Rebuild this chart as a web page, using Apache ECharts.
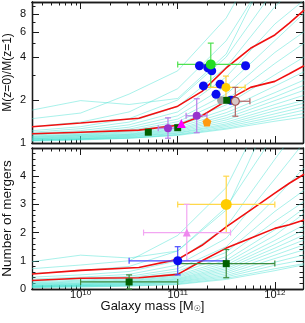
<!DOCTYPE html>
<html><head><meta charset="utf-8">
<script src="https://cdn.jsdelivr.net/npm/echarts@6/dist/echarts.min.js"></script>
<style>html,body{margin:0;padding:0;background:#fff}#c{width:305px;height:323px}</style>
</head><body><div id="c"></div>
<script>
// ---------- axis ranges / ticks ----------
const xMin = 3.16e9, xMax = 1.95e12;
const topYMin = 1, topYMax = 9.7;
const botYMin = 0, botYMax = 5;
const xMajorTicks = [1e10, 1e11, 1e12];
const xMinorTicks = [4e9,5e9,6e9,7e9,8e9,9e9,2e10,3e10,4e10,5e10,6e10,7e10,8e10,9e10,2e11,3e11,4e11,5e11,6e11,7e11,8e11,9e11];
const topYMajorTicks = [1, 2, 4, 6, 8];
const topYMinorTicks = [3, 5, 7, 9];

// ---------- model curves ----------
const massBins = [3.16e9, 1e10, 3.16e10, 1e11, 3.16e11, 1e12, 2e12];
const cyanTop = [
  [1.70, 1.98, 1.86, 2.05, 4.2, 20, 40],
  [1.48, 1.62, 2.20, 3.2, 7.5, 30, 50],
  [1.30, 1.40, 1.65, 2.4, 5.2, 18, 30],
  [1.22, 1.30, 1.48, 2.0, 4.0, 12, 20],
  [1.19, 1.26, 1.40, 1.8, 3.4, 9, 14],
  [1.17, 1.22, 1.34, 1.65, 2.9, 6.8, 10],
  [1.15, 1.19, 1.29, 1.55, 2.5, 5.2, 8.1],
  [1.14, 1.17, 1.25, 1.47, 2.2, 4.3, 6.0],
  [1.12, 1.15, 1.22, 1.41, 2.0, 3.6, 5.0],
  [1.11, 1.14, 1.20, 1.36, 1.85, 3.0, 4.0],
  [1.10, 1.13, 1.18, 1.32, 1.72, 2.5, 3.15],
  [1.09, 1.12, 1.16, 1.29, 1.63, 2.25, 2.76],
  [1.08, 1.11, 1.15, 1.26, 1.56, 2.1, 2.54],
  [1.07, 1.10, 1.14, 1.24, 1.50, 1.98, 2.34],
  [1.07, 1.09, 1.13, 1.22, 1.45, 1.86, 2.16],
  [1.06, 1.08, 1.12, 1.20, 1.40, 1.76, 1.99],
  [1.05, 1.07, 1.11, 1.18, 1.36, 1.68, 1.90],
  [1.05, 1.07, 1.10, 1.17, 1.33, 1.60, 1.79],
  [1.04, 1.06, 1.09, 1.15, 1.30, 1.53, 1.70],
  [1.04, 1.06, 1.08, 1.14, 1.27, 1.47, 1.61],
  [1.03, 1.05, 1.08, 1.13, 1.25, 1.42, 1.52]
];
const cyanBot = [
  [0.97, 1.20, 1.10, 1.35, 2.8, 6.5, 9],
  [0.72, 0.85, 1.00, 1.9, 3.6, 7, 9],
  [0.55, 0.65, 0.80, 1.35, 2.9, 5.5, 7],
  [0.42, 0.50, 0.62, 1.0, 2.2, 4.6, 6],
  [0.35, 0.42, 0.52, 0.85, 1.8, 3.9, 5.2],
  [0.30, 0.36, 0.45, 0.72, 1.5, 3.2, 4.3],
  [0.26, 0.31, 0.40, 0.63, 1.3, 2.75, 3.5],
  [0.22, 0.28, 0.36, 0.56, 1.15, 2.4, 3.1],
  [0.20, 0.25, 0.32, 0.50, 1.02, 2.1, 2.86],
  [0.18, 0.22, 0.29, 0.46, 0.93, 1.9, 2.68],
  [0.16, 0.20, 0.27, 0.42, 0.85, 1.72, 2.27],
  [0.14, 0.18, 0.24, 0.38, 0.78, 1.58, 2.1],
  [0.12, 0.16, 0.22, 0.35, 0.72, 1.45, 1.92],
  [0.11, 0.15, 0.20, 0.32, 0.66, 1.33, 1.74],
  [0.10, 0.13, 0.18, 0.29, 0.60, 1.2, 1.57],
  [0.09, 0.12, 0.16, 0.26, 0.54, 1.08, 1.39],
  [0.08, 0.11, 0.15, 0.24, 0.48, 0.95, 1.21],
  [0.07, 0.10, 0.13, 0.21, 0.43, 0.84, 1.04],
  [0.06, 0.08, 0.11, 0.18, 0.38, 0.72, 0.90],
  [0.05, 0.07, 0.10, 0.16, 0.34, 0.65, 0.86]
];
const redMass = [3.16e9, 1e10, 3.98e10, 1e11, 1.78e11, 3.16e11, 5.62e11, 1e12, 1.41e12, 2e12];
const redTopUpper = [1.30, 1.38, 1.49, 1.81, 2.3, 3.35, 4.6, 5.7, 6.9, 8.5];
const redTopLower = [1.16, 1.19, 1.23, 1.33, 1.55, 1.97, 2.45, 2.7, 3.05, 3.47];
const redBotUpper = [0.53, 0.66, 0.76, 1.05, 1.55, 2.2, 2.8, 3.4, 3.75, 4.07];
const redBotLower = [0.30, 0.38, 0.40, 0.52, 1.0, 1.45, 1.8, 2.15, 2.28, 2.45];

// ---------- observations: [mass, value, massLo, massHi, valLo, valHi] ----------
const blueTop = [[1.675e11,3.47],[2.04e11,3.36],[2.24e11,3.2],[5.0e11,3.47],[1.84e11,2.51],[2.73e11,2.58],[2.48e11,2.19],[3.52e11,1.99]];
const greenTop = [[2.19e11, 3.55, 1e11, 4.7e11, 2.45, 5.0]];
const yellowTop = [[3.14e11, 2.45, 1.96e11, 4.95e11, 2.06, 2.94]];
const brownTop = [[3.92e11, 1.96, 2.84e11, 5.54e11, 1.54, 2.45]];
const grayTop = [[2.8e11, 1.99]];
const squaresTop = [[3.2e11, 1.99], [1.0e11, 1.28], [4.98e10, 1.19]];
const purpleTop = [[1.57e11, 1.55, 1.22e11, 2.0e11, 1.18, 2.04], [7.94e10, 1.27, 6.3e10, 1.06e11, 1.08, 1.50]];
const magentaTop = [[1.09e11, 1.37]];
const orangeTop = [[2.0e11, 1.40]];

const yellowBot = [[3.16e11, 3.0, 1e11, 1e12, 2.0, 4.0]];
const pinkBot = [[1.24e11, 2.0, 4.45e10, 3.5e11, 1.0, 3.0]];
const blueBot = [[1e11, 1.0, 3.16e10, 3.16e11, 0.5, 1.5]];
const greenBot = [[3.16e11, 0.9, 1e11, 1e12, 0.4, 1.4], [3.16e10, 0.25, 1e10, 1e11, 0.0, 0.5]];

// ---------- build ----------
const FONT = 'Liberation Sans';
const AX = '#1a1a1a';
const chart = echarts.init(document.getElementById('c'), null, {renderer: 'canvas'});

function xAx(grid, pos, ticks, len, labels) {
  return {
    type: 'log', logBase: 10, gridIndex: grid, position: pos, min: xMin, max: xMax,
    axisLine: {show: true, onZero: false, lineStyle: {color: AX, width: 1.3}},
    axisTick: {show: true, inside: true, length: len, customValues: ticks, lineStyle: {color: AX, width: 1}},
    axisLabel: labels ? {
      show: true, customValues: ticks, margin: 0, color: '#111', fontFamily: FONT, hideOverlap: false,
      formatter: v => '{b|10}{s|' + Math.round(Math.log10(v)) + '}',
      rich: {b: {fontSize: 11, fontFamily: FONT, color: '#111', lineHeight: 11, padding: [3, 0, 0, 0], verticalAlign: 'bottom'},
             s: {fontSize: 8, fontFamily: FONT, color: '#111', lineHeight: 8, verticalAlign: 'top'}}
    } : {show: false},
    splitLine: {show: false}, minorTick: {show: false}, minorSplitLine: {show: false}
  };
}
function yTopAx(pos, ticks, len, labels, name) {
  return {
    type: 'log', logBase: 10, gridIndex: 0, position: pos, min: topYMin, max: topYMax,
    name: name || '', nameLocation: 'middle', nameGap: 18, nameMoveOverlap: false,
    nameTextStyle: {fontSize: 12, fontFamily: FONT, color: '#111'},
    axisLine: {show: true, onZero: false, lineStyle: {color: AX, width: 1.3}},
    axisTick: {show: true, inside: true, length: len, customValues: ticks, lineStyle: {color: AX, width: 1}},
    axisLabel: labels ? {show: true, customValues: ticks, margin: 6, fontSize: 11, fontFamily: FONT, color: '#111'} : {show: false},
    splitLine: {show: false}, minorTick: {show: false}
  };
}
function yBotAx(pos, labels, name) {
  return {
    type: 'value', gridIndex: 1, position: pos, min: botYMin, max: botYMax, interval: 1,
    name: name || '', nameLocation: 'middle', nameGap: 18, nameMoveOverlap: false,
    nameTextStyle: {fontSize: 13.5, fontFamily: FONT, color: '#111'},
    axisLine: {show: true, onZero: false, lineStyle: {color: AX, width: 1.3}},
    axisTick: {show: true, inside: true, length: 7, lineStyle: {color: AX, width: 1}},
    minorTick: {show: true, splitNumber: 5, length: 3.5, lineStyle: {color: AX, width: 1}},
    axisLabel: labels ? {show: true, margin: 6, fontSize: 11, fontFamily: FONT, color: '#111', showMaxLabel: false} : {show: false},
    splitLine: {show: false}, minorSplitLine: {show: false}
  };
}

const xAxes = [
  xAx(0, 'bottom', xMajorTicks, 7, false), xAx(0, 'bottom', xMinorTicks, 3.5, false),
  xAx(0, 'top', xMajorTicks, 7, false), xAx(0, 'top', xMinorTicks, 3.5, false),
  xAx(1, 'bottom', xMajorTicks, 7, true), xAx(1, 'bottom', xMinorTicks, 3.5, false),
  xAx(1, 'top', xMajorTicks, 7, false), xAx(1, 'top', xMinorTicks, 3.5, false)
];
const yAxes = [
  yTopAx('left', topYMajorTicks, 7, true, 'M(z=0)/M(z=1)'), yTopAx('left', topYMinorTicks, 3.5, false),
  yTopAx('right', topYMajorTicks, 7, false), yTopAx('right', topYMinorTicks, 3.5, false),
  yBotAx('left', true, 'Number of mergers'), yBotAx('right', false)
];

const series = [];
function zip(xs, ys) { return xs.map((x, i) => [x, ys[i]]); }
function lineS(panel, data, color, width, opacity, z) {
  series.push({type: 'line', xAxisIndex: panel ? 4 : 0, yAxisIndex: panel ? 4 : 0, data: data,
    symbol: 'none', silent: true, clip: true, z: z,
    lineStyle: {color: color, width: width, opacity: opacity}});
}
cyanTop.forEach(v => lineS(0, zip(massBins, v), '#40e0d0', 0.9, 0.5, 1));
cyanBot.forEach(v => lineS(1, zip(massBins, v), '#40e0d0', 0.9, 0.5, 1));
lineS(0, zip(redMass, redTopUpper), '#f01010', 1.6, 1, 3);
lineS(0, zip(redMass, redTopLower), '#f01010', 1.6, 1, 3);
lineS(1, zip(redMass, redBotUpper), '#f01010', 1.6, 1, 3);
lineS(1, zip(redMass, redBotLower), '#f01010', 1.6, 1, 3);

function errS(panel, data, color) {
  series.push({type: 'custom', xAxisIndex: panel ? 4 : 0, yAxisIndex: panel ? 4 : 0, data: data,
    silent: true, z: 4, encode: {x: [0, 2, 3], y: [1, 4, 5]},
    renderItem: function (params, api) {
      const x = api.value(0), y = api.value(1);
      const xl = api.value(2), xh = api.value(3), yl = api.value(4), yh = api.value(5);
      const st = {stroke: color, lineWidth: 1.2, fill: null};
      const cap = 3;
      const kids = [];
      const L = (x1, y1, x2, y2) => kids.push({type: 'line', shape: {x1: x1, y1: y1, x2: x2, y2: y2}, style: st});
      const pl = api.coord([xl, y]), ph = api.coord([xh, y]);
      L(pl[0], pl[1], ph[0], ph[1]);
      L(pl[0], pl[1] - cap, pl[0], pl[1] + cap);
      L(ph[0], ph[1] - cap, ph[0], ph[1] + cap);
      const ql = api.coord([x, yl]), qh = api.coord([x, yh]);
      L(ql[0], ql[1], qh[0], qh[1]);
      L(ql[0] - cap, ql[1], ql[0] + cap, ql[1]);
      L(qh[0] - cap, qh[1], qh[0] + cap, qh[1]);
      return {type: 'group', children: kids};
    }});
}
function ptS(panel, data, symbol, size, color, border) {
  series.push({type: 'scatter', xAxisIndex: panel ? 4 : 0, yAxisIndex: panel ? 4 : 0,
    data: data.map(d => [d[0], d[1]]), symbol: symbol, symbolSize: size, silent: true, z: 6,
    itemStyle: {color: color, opacity: 1, borderColor: border || color, borderWidth: border ? 1.2 : 0}});
}
const pentagon = 'path://M0,-1 L0.951,-0.309 L0.588,0.809 L-0.588,0.809 L-0.951,-0.309Z';

// top panel
errS(0, greenTop, '#4ee04e');
errS(0, yellowTop, '#ffd23f');
errS(0, brownTop, '#b06464');
errS(0, purpleTop, '#b77ee8');
ptS(0, grayTop, 'circle', 8, '#a0a0a0');
ptS(0, blueTop, 'circle', 9, '#0a0af0');
ptS(0, greenTop, 'circle', 10, '#22dd22');
ptS(0, yellowTop, 'circle', 9, '#ffcc00');
ptS(0, brownTop, 'circle', 8, '#d8c8c8', '#a05050');
ptS(0, squaresTop, 'rect', 7, '#006000');
ptS(0, purpleTop, 'circle', 8, '#9933cc');
ptS(0, magentaTop, 'triangle', 9, '#ff00ff');
ptS(0, orangeTop, pentagon, 9, '#ff9a10');

// bottom panel
errS(1, yellowBot, '#ffd84a');
errS(1, pinkBot, '#f2a6f2');
errS(1, blueBot, '#4a4aff');
errS(1, greenBot, '#3d8b3d');
ptS(1, yellowBot, 'circle', 11, '#ffcc00');
ptS(1, pinkBot, 'triangle', 8, '#ee88ee');
ptS(1, blueBot, 'circle', 9, '#0a0af0');
ptS(1, greenBot, 'rect', 7, '#006000');

chart.setOption({
  animation: false,
  backgroundColor: '#fff',
  grid: [
    {left: 32, right: 2, top: 2, height: 141, containLabel: false, outerBoundsMode: 'none'},
    {left: 32, right: 2, top: 148, height: 141, containLabel: false, outerBoundsMode: 'none'}
  ],
  title: {
    text: 'Galaxy mass [M{s|☉}]', left: 'center', top: 299, padding: 0,
    textStyle: {fontSize: 13, fontWeight: 'normal', fontFamily: FONT, color: '#111',
      rich: {s: {fontSize: 8, fontFamily: 'DejaVu Sans', color: '#111', verticalAlign: 'bottom', padding: [6, 0, 0, 0]}}}
  },
  xAxis: xAxes,
  yAxis: yAxes,
  series: series
});
</script></body></html>
